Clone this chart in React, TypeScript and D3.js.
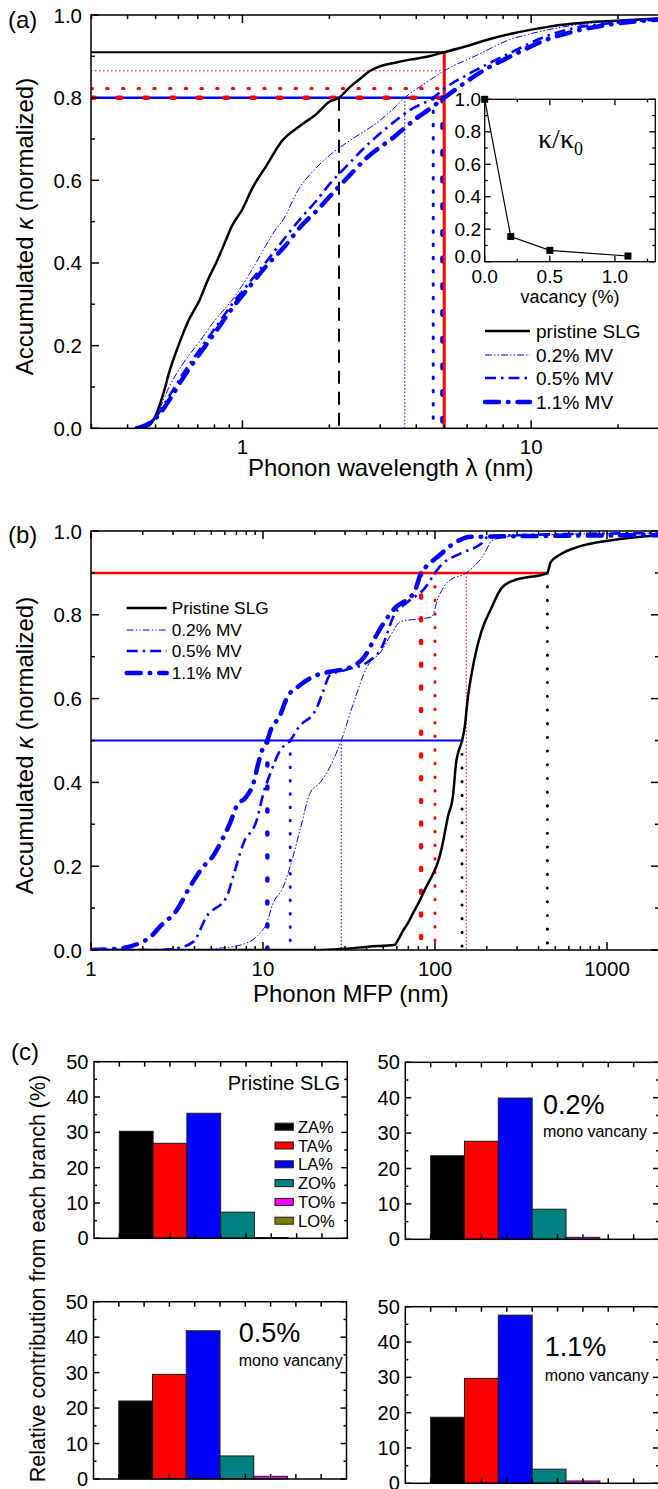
import React, { useRef, useEffect } from 'react';
import * as d3 from 'd3';

type Pt = [number, number];

const W = 658;
const H = 1489;
const FONT = "'Liberation Sans', Arial, Helvetica, sans-serif";
const SERIF = "'Liberation Serif', 'Times New Roman', serif";
const BLUE = '#0000ff';
const RED = '#ff0000';

// ---- (a) accumulated kappa vs phonon wavelength (nm)
const wlPristine: Pt[] = [
  [0.44, 0], [0.47, 0.005], [0.5, 0.03], [0.53, 0.08], [0.56, 0.14], [0.6, 0.2], [0.65, 0.26],
  [0.71, 0.31], [0.76, 0.36], [0.81, 0.4], [0.87, 0.45], [0.92, 0.49], [1.0, 0.53], [1.08, 0.58],
  [1.21, 0.635], [1.37, 0.695], [1.57, 0.73], [1.8, 0.76], [2.0, 0.79], [2.16, 0.8], [2.35, 0.825],
  [2.55, 0.845], [2.77, 0.865], [3.0, 0.876], [3.35, 0.884], [3.8, 0.892], [4.35, 0.899], [5.0, 0.91],
  [6.0, 0.925], [7.2, 0.942], [8.7, 0.956], [10.5, 0.967], [12.6, 0.976], [15.5, 0.982], [19.8, 0.986], [30, 0.993],
];
const wl02: Pt[] = [
  [0.43, 0], [0.47, 0.01], [0.51, 0.04], [0.557, 0.1], [0.62, 0.155], [0.71, 0.21], [0.8, 0.26],
  [0.92, 0.31], [1.05, 0.37], [1.2, 0.44], [1.3, 0.48], [1.37, 0.5], [1.57, 0.58], [1.8, 0.63],
  [2.0, 0.66], [2.4, 0.7], [2.93, 0.74], [3.3, 0.77], [3.65, 0.8], [4.3, 0.835], [5.0, 0.865],
  [6.5, 0.903], [8.4, 0.94], [10, 0.955], [12.6, 0.97], [18, 0.984], [30, 0.993],
];
const wl05: Pt[] = [
  [0.43, 0], [0.47, 0.01], [0.51, 0.035], [0.56, 0.08], [0.62, 0.13], [0.71, 0.19], [0.8, 0.24],
  [0.92, 0.3], [1.05, 0.35], [1.2, 0.4], [1.4, 0.46], [1.6, 0.51], [1.8, 0.55], [2.0, 0.59],
  [2.3, 0.635], [2.7, 0.685], [3.2, 0.73], [3.8, 0.77], [4.58, 0.8], [5.0, 0.822], [6.0, 0.855],
  [7.0, 0.88], [8.4, 0.907], [11.1, 0.947], [14, 0.968], [18.7, 0.98], [30, 0.99],
];
const wl11: Pt[] = [
  [0.43, 0], [0.47, 0.01], [0.51, 0.03], [0.56, 0.07], [0.62, 0.12], [0.71, 0.18], [0.8, 0.23],
  [0.92, 0.29], [1.05, 0.34], [1.2, 0.39], [1.4, 0.44], [1.6, 0.49], [1.8, 0.525], [2.0, 0.56],
  [2.3, 0.605], [2.7, 0.655], [3.35, 0.705], [4.0, 0.75], [4.6, 0.78], [4.93, 0.797], [5.0, 0.8],
  [6.0, 0.84], [7.0, 0.87], [8.5, 0.9], [11.1, 0.938], [14, 0.96], [18.7, 0.977], [30, 0.99],
];
const wlCut = 5.0; // nm, red vertical
const wlValueAtCut = [0.91, 0.865, 0.822, 0.8];
const wlAt80 = [2.16, 3.65, 4.58, 4.93];

// inset: kappa / kappa0 vs vacancy
const vacancy = [0, 0.2, 0.5, 1.1];
const kappaRatio = [1.0, 0.155, 0.07, 0.035];

// ---- (b) accumulated kappa vs phonon MFP (nm)
const mfpPristine: Pt[] = [
  [1, 0], [20, 0], [30, 0.003], [40.8, 0.008], [58, 0.012], [61, 0.024], [65, 0.045], [69.6, 0.064],
  [75, 0.09], [79.7, 0.11], [87, 0.143], [95.5, 0.175], [102, 0.2], [108.8, 0.239], [114, 0.28],
  [118.8, 0.318], [127, 0.366], [132.6, 0.446], [143.6, 0.5], [148.6, 0.53], [155, 0.6], [162.7, 0.656],
  [175, 0.72], [186, 0.76], [212, 0.815], [243, 0.863], [291, 0.883], [350, 0.89], [416, 0.895],
  [450, 0.9], [470, 0.925], [540, 0.945], [678, 0.962], [1060, 0.978], [2000, 0.99],
];
const mfp02: Pt[] = [
  [1, 0], [4.3, 0], [5.5, 0.004], [6.7, 0.008], [7.8, 0.015], [8.7, 0.024], [9.6, 0.04], [10.5, 0.064],
  [11.4, 0.11], [13.1, 0.15], [14.4, 0.2], [16.4, 0.286], [18.8, 0.375], [21.5, 0.4], [24.5, 0.437],
  [28.5, 0.5], [33, 0.58], [40.8, 0.68], [48.5, 0.712], [55, 0.75], [63.2, 0.784], [80, 0.79],
  [95.5, 0.795], [104, 0.839], [119, 0.879], [152, 0.9], [186, 0.935], [220, 0.98], [350, 0.99], [2000, 0.995],
];
const mfp05: Pt[] = [
  [1, 0], [2.5, 0], [3.15, 0.004], [3.94, 0.02], [4.7, 0.08], [6.15, 0.127], [6.7, 0.175], [7.7, 0.255],
  [9.2, 0.31], [10.05, 0.374], [11.0, 0.42], [12.6, 0.477], [14.4, 0.5], [16, 0.53], [20.5, 0.577],
  [22.3, 0.616], [24.5, 0.656], [30, 0.668], [40.8, 0.688], [48.7, 0.72], [58, 0.8], [69.6, 0.831],
  [87, 0.863], [100, 0.9], [108.8, 0.919], [142, 0.947], [186, 0.97], [203, 0.986], [300, 0.99], [2000, 0.995],
];
const mfp11: Pt[] = [
  [1, 0], [1.3, 0.002], [1.54, 0.005], [1.93, 0.017], [2.2, 0.03], [2.52, 0.056], [3.15, 0.095],
  [3.76, 0.151], [4.5, 0.199], [5.1, 0.223], [5.9, 0.27], [6.42, 0.302], [7.0, 0.342], [8.0, 0.366],
  [8.8, 0.398], [9.4, 0.446], [10.05, 0.485], [10.6, 0.5], [11, 0.521], [12.6, 0.561], [13.7, 0.6],
  [16.4, 0.632], [20.5, 0.656], [24.5, 0.664], [32.7, 0.676], [38.9, 0.7], [44.6, 0.744], [51, 0.784],
  [58.2, 0.815], [76, 0.855], [83, 0.9], [87, 0.911], [104, 0.939], [133, 0.974], [162, 0.986], [2000, 0.99],
];
const mfpAt90 = [450, 152, 100, 83];
const mfpAt50 = [143.6, 28.5, 14.4, 10.6];

// ---- (c) relative contribution from each branch (%)
const branches = ['ZA%', 'TA%', 'LA%', 'ZO%', 'TO%', 'LO%'];
const branchColors = ['#000000', '#ff0000', '#0000ff', '#008080', '#ff00ff', '#808000'];
const contribPristine = [30.3, 26.9, 35.4, 7.4, 0.2, 0];
const contrib02 = [23.6, 27.7, 39.9, 8.5, 0.55, 0];
const contrib05 = [22.0, 29.5, 41.8, 6.5, 0.75, 0];
const contrib11 = [18.7, 29.7, 47.6, 4.0, 0.65, 0];

const namesA = ['pristine SLG', '0.2% MV', '0.5% MV', '1.1% MV'];
const namesB = ['Pristine SLG', '0.2% MV', '0.5% MV', '1.1% MV'];

// line looks, shared by (a) and (b)
const seriesStyle = [
  { color: '#000000', width: 2.5, dash: null, cap: 'butt' },
  { color: BLUE, width: 1, dash: '7,2,1.5,2,1.5,2', cap: 'butt' },
  { color: BLUE, width: 2.6, dash: '11,5,2.5,5', cap: 'butt' },
  { color: BLUE, width: 4.5, dash: '14,9,0.5,9', cap: 'round' },
];

function styled(sel: any, st: any) {
  return sel
    .attr('fill', 'none')
    .attr('stroke', st.color)
    .attr('stroke-width', st.width)
    .attr('stroke-dasharray', st.dash)
    .attr('stroke-linecap', st.cap || 'butt');
}

function addLine(g: any, x1: number, y1: number, x2: number, y2: number) {
  return g.append('line').attr('x1', x1).attr('y1', y1).attr('x2', x2).attr('y2', y2);
}

function addText(g: any, x: number, y: number, str: string, size: number, anchor = 'start') {
  return g.append('text')
    .attr('x', x).attr('y', y)
    .attr('font-size', size)
    .attr('text-anchor', anchor)
    .attr('dominant-baseline', 'central')
    .attr('fill', '#000')
    .text(str);
}

const isDecade = (v: number) => Math.abs(Math.log10(v) - Math.round(Math.log10(v))) < 1e-9;

// frame + inward ticks for a log-x / linear-y plot
function logFrame(svg: any, x: any, y: any, L: number, T: number, R: number, B: number) {
  const g = svg.append('g').attr('stroke', '#000').attr('stroke-width', 1.5);
  g.append('rect').attr('x', L).attr('y', T).attr('width', R - L).attr('height', B - T).attr('fill', 'none');
  x.ticks().forEach((v: number) => {
    const len = isDecade(v) ? 8 : 4;
    addLine(g, x(v), B, x(v), B - len);
    addLine(g, x(v), T, x(v), T + len);
  });
  d3.range(0, 11).forEach((i) => {
    const len = i % 2 === 0 ? 8 : 4;
    const yy = y(i / 10);
    addLine(g, L, yy, L + len, yy);
    addLine(g, R, yy, R - len, yy);
  });
  const lab = svg.append('g');
  d3.range(0, 6).forEach((i) => addText(lab, L - 9, y(i / 5), d3.format('.1f')(i / 5), 20.5, 'end'));
  x.ticks().filter(isDecade).forEach((v: number) => addText(lab, x(v), B + 18.4, String(v), 20.5, 'middle'));
}

function legend(svg: any, names: string[], x1: number, x2: number, tx: number, rows: number[], size: number) {
  const g = svg.append('g');
  names.forEach((n, i) => {
    styled(addLine(g, x1, rows[i], x2, rows[i]), seriesStyle[i]);
    addText(g, tx, rows[i], n, size);
  });
}

function yTitle(svg: any, cx: number, cy: number, size: number) {
  const t = svg.append('text')
    .attr('transform', `translate(${cx},${cy}) rotate(-90)`)
    .attr('text-anchor', 'middle').attr('dominant-baseline', 'central')
    .attr('font-size', size);
  t.append('tspan').text('Accumulated ');
  t.append('tspan').attr('font-style', 'italic').text('κ');
  t.append('tspan').text(' (normalized)');
}

function drawPanelA(svg: any, defs: any) {
  const L = 91, T = 15, R = 669, B = 428.3;
  const x = d3.scaleLog().domain([0.3, 30]).range([91.5, 668.9]);
  const y = d3.scaleLinear().domain([0, 1]).range([B, T]);
  defs.append('clipPath').attr('id', 'clipA').append('rect')
    .attr('x', L).attr('y', T).attr('width', R - L).attr('height', B - T);
  const plot = svg.append('g').attr('clip-path', 'url(#clipA)');

  const hStyle = [
    { color: '#000', width: 2 },
    { color: RED, width: 1, dash: '1.5,2.5' },
    { color: RED, width: 3, dash: '1.5,14.2', cap: 'round' },
    { color: RED, width: 4.5, dash: '3.5,23.2', cap: 'round' },
  ];
  const vStyle = [
    { color: '#000', width: 2, dash: '13,8' },
    { color: BLUE, width: 1, dash: '1.5,2' },
    { color: BLUE, width: 3, dash: '1.5,11.8', cap: 'round' },
    { color: BLUE, width: 4.5, dash: '3.5,23.2', cap: 'round' },
  ];
  styled(addLine(plot, L, y(0.8), x(wlAt80[3]), y(0.8)), { color: BLUE, width: 2.5 });
  wlValueAtCut.forEach((v, i) => styled(addLine(plot, L, y(v), x(wlCut), y(v)), hStyle[i]));
  wlAt80.forEach((v, i) => styled(addLine(plot, x(v), y(0.8), x(v), B), vStyle[i]));
  styled(addLine(plot, x(wlCut), y(wlValueAtCut[0]), x(wlCut), B), { color: RED, width: 3 });

  const line = d3.line<Pt>().x((d) => x(d[0])).y((d) => y(d[1])).curve(d3.curveMonotoneX);
  [wlPristine, wl02, wl05, wl11].forEach((data, i) => styled(plot.append('path').attr('d', line(data)), seriesStyle[i]));

  logFrame(svg, x, y, L, T, R, B);
  legend(svg, namesA, 485, 530, 536, [331, 355, 378, 402], 19);

  // inset
  const xi = d3.scaleLinear().domain([0, 1.31]).range([484.7, 655.3]);
  const yi = d3.scaleLinear().domain([0, 1]).range([261.7, 99.3]);
  const ig = svg.append('g').attr('stroke', '#000').attr('stroke-width', 1.3);
  ig.append('rect').attr('x', 484.7).attr('y', 99.3).attr('width', 170.6).attr('height', 162.4).attr('fill', 'none');
  d3.range(0, 11).forEach((i) => {
    const len = i % 2 === 0 ? 6 : 3;
    addLine(ig, 484.7, yi(i / 10), 484.7 + len, yi(i / 10));
    addLine(ig, 655.3, yi(i / 10), 655.3 - len, yi(i / 10));
  });
  d3.range(0, 6).forEach((i) => {
    const len = i % 2 === 0 ? 6 : 3;
    addLine(ig, xi(i / 4), 261.7, xi(i / 4), 261.7 - len);
    addLine(ig, xi(i / 4), 99.3, xi(i / 4), 99.3 + len);
  });
  const pts = vacancy.map((v, i) => [v, kappaRatio[i]] as Pt);
  ig.append('path').attr('d', d3.line<Pt>().x((d) => xi(d[0])).y((d) => yi(d[1]))(pts))
    .attr('fill', 'none').attr('stroke-width', 1.2);
  pts.forEach((p) => ig.append('rect').attr('x', xi(p[0]) - 3.5).attr('y', yi(p[1]) - 3.5)
    .attr('width', 7).attr('height', 7).attr('fill', '#000').attr('stroke', 'none'));
  const il = svg.append('g');
  d3.range(0, 6).forEach((i) => addText(il, 481, yi(i / 5) - (i === 0 ? 5 : 0), d3.format('.1f')(i / 5), 19, 'end'));
  [0, 0.5, 1.0].forEach((v) => addText(il, xi(v), 276.7, d3.format('.1f')(v), 19, 'middle'));
  addText(il, 570, 297, 'vacancy (%)', 18, 'middle');
  const kt = il.append('text').attr('x', 538).attr('y', 148).attr('font-size', 28).attr('font-family', SERIF);
  kt.append('tspan').text('κ/κ');
  kt.append('tspan').attr('font-size', 18).attr('dy', 7).text('0');

  addText(svg, 8, 19, '(a)', 24);
  yTitle(svg, 24, 226.5, 24);
  addText(svg, 248, 467.5, 'Phonon wavelength λ (nm)', 24);
}

function drawPanelB(svg: any, defs: any) {
  const L = 91, T = 531, R = 659, B = 950;
  const x = d3.scaleLog().domain([1, 2000]).range([91, 658.8]);
  const y = d3.scaleLinear().domain([0, 1]).range([B, T]);
  defs.append('clipPath').attr('id', 'clipB').append('rect')
    .attr('x', L).attr('y', T).attr('width', R - L).attr('height', B - T);
  const plot = svg.append('g').attr('clip-path', 'url(#clipB)');

  const v90 = [
    { color: '#000', width: 3, dash: '0.1,13.6', cap: 'round' },
    { color: RED, width: 1, dash: '1.5,2' },
    { color: RED, width: 3, dash: '0.5,13.1', cap: 'round' },
    { color: RED, width: 4.5, dash: '2,20.7', cap: 'round' },
  ];
  const v50 = [
    { color: '#000', width: 3, dash: '0.1,13.6', cap: 'round' },
    { color: BLUE, width: 1, dash: '1.5,2' },
    { color: BLUE, width: 3, dash: '0.5,12.8', cap: 'round' },
    { color: BLUE, width: 4.5, dash: '2,21', cap: 'round' },
  ];
  styled(addLine(plot, L, y(0.9), x(mfpAt90[0]), y(0.9)), { color: RED, width: 2.5 });
  styled(addLine(plot, L, y(0.5), x(mfpAt50[0]), y(0.5)), { color: BLUE, width: 2 });
  mfpAt90.forEach((v, i) => styled(addLine(plot, x(v), y(0.9), x(v), B), v90[i]));
  mfpAt50.forEach((v, i) => styled(addLine(plot, x(v), y(0.5), x(v), B), v50[i]));

  const line = d3.line<Pt>().x((d) => x(d[0])).y((d) => y(d[1])).curve(d3.curveMonotoneX);
  [mfpPristine, mfp02, mfp05, mfp11].forEach((data, i) => styled(plot.append('path').attr('d', line(data)), seriesStyle[i]));

  logFrame(svg, x, y, L, T, R, B);
  legend(svg, namesB, 126.7, 166.7, 171.7, [608, 630, 651, 673], 17.3);

  addText(svg, 8, 534, '(b)', 24);
  yTitle(svg, 24, 745.5, 24);
  addText(svg, 253, 993.5, 'Phonon MFP (nm)', 24);
}

// layout of the four bar boxes in (c)
const barBoxes = [
  { x0: 94, x1: 347.3, y0: 1061.7, y1: 1238.3 },
  { x0: 405.3, x1: 659, y0: 1062.3, y1: 1239.3 },
  { x0: 93.5, x1: 346.5, y0: 1301.7, y1: 1479 },
  { x0: 405.3, x1: 659, y0: 1306.7, y1: 1483.3 },
];

function drawBars(svg: any, box: any, values: number[]) {
  const x = d3.scaleLinear().domain([0, 10]).range([box.x0, box.x1]);
  const y = d3.scaleLinear().domain([0, 50]).range([box.y1, box.y0]);
  const bw = 4 / 3;
  const g = svg.append('g');
  values.forEach((v, i) => {
    if (v <= 0) return;
    const a = x(1 + i * bw), b = x(1 + (i + 1) * bw);
    g.append('rect').attr('x', a).attr('y', y(v)).attr('width', b - a).attr('height', y(0) - y(v))
      .attr('fill', branchColors[i]).attr('stroke', '#1a1a1a').attr('stroke-width', 1);
  });
  const ax = svg.append('g').attr('stroke', '#000').attr('stroke-width', 1.5);
  ax.append('rect').attr('x', box.x0).attr('y', box.y0).attr('width', box.x1 - box.x0)
    .attr('height', box.y1 - box.y0).attr('fill', 'none');
  d3.range(1, 10).forEach((t) => {
    addLine(ax, x(t), box.y1, x(t), box.y1 - 5);
    addLine(ax, x(t), box.y0, x(t), box.y0 + 5);
  });
  d3.range(0, 51, 5).forEach((t) => {
    const len = t % 10 === 0 ? 6 : 3;
    addLine(ax, box.x0, y(t), box.x0 + len, y(t));
    addLine(ax, box.x1, y(t), box.x1 - len, y(t));
  });
  const lab = svg.append('g');
  d3.range(0, 51, 10).forEach((t) => addText(lab, box.x0 - 5.5, y(t), String(t), 20, 'end'));
}

function drawPanelC(svg: any) {
  [contribPristine, contrib02, contrib05, contrib11].forEach((vals, i) => drawBars(svg, barBoxes[i], vals));

  const b0 = barBoxes[0];
  addText(svg, 227.7, 1083, 'Pristine SLG', 20);
  const lg = svg.append('g');
  branches.forEach((n, i) => {
    const cy = 1126.7 + i * 18.8;
    lg.append('rect').attr('x', b0.x0 + 181).attr('y', cy - 3.5).attr('width', 18.3).attr('height', 7)
      .attr('fill', branchColors[i]).attr('stroke', '#1a1a1a').attr('stroke-width', 1);
    addText(lg, b0.x0 + 204, cy, n, 16.5);
  });

  const tags = [
    { label: '0.2%', x: 543, y: 1105, sub: 1131.7 },
    { label: '0.5%', x: 238.7, y: 1333.3, sub: 1360 },
    { label: '1.1%', x: 544.7, y: 1346.7, sub: 1375 },
  ];
  tags.forEach((t) => {
    addText(svg, t.x, t.y, t.label, 27);
    addText(svg, t.x, t.sub, 'mono vancany', 16);
  });

  addText(svg, 11, 1051, '(c)', 24);
  svg.append('text')
    .attr('transform', 'translate(38,1278.5) rotate(-90)')
    .attr('text-anchor', 'middle').attr('dominant-baseline', 'central')
    .attr('font-size', 21.5)
    .text('Relative contribution from each branch (%)');
}

export default function App() {
  const svgRef = useRef<SVGSVGElement>(null);

  useEffect(() => {
    document.body.style.margin = '0';
    const svg = d3.select(svgRef.current);
    svg.selectAll('*').remove();
    svg.attr('width', W).attr('height', H)
      .style('display', 'block')
      .style('background', '#fff')
      .style('font-family', FONT);
    const defs = svg.append('defs');
    drawPanelA(svg, defs);
    drawPanelB(svg, defs);
    drawPanelC(svg);
  }, []);

  return <svg ref={svgRef} />;
}
